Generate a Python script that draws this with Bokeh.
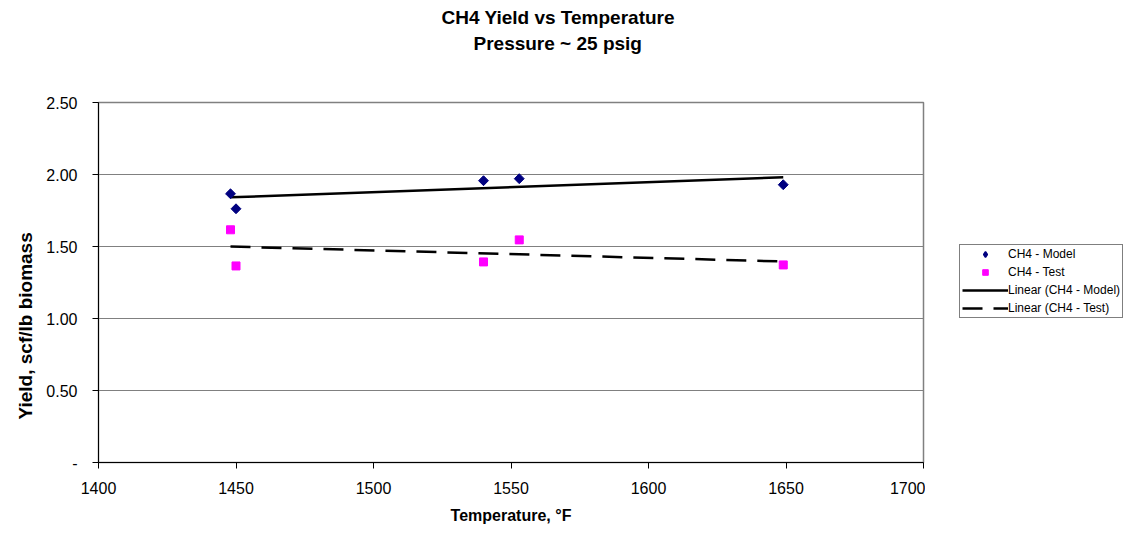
import numpy as np
from bokeh.plotting import figure
from bokeh.layouts import row
from bokeh.models import (ColumnDataSource, Legend, LegendItem, Title,
                          FixedTicker, Range1d)
from bokeh.embed import file_html
from bokeh.resources import INLINE

# Test temperatures (deg F) and CH4 yields (scf/lb biomass)
model_temp = [1448, 1450, 1540, 1553, 1649]
model_yield = [1.866, 1.762, 1.957, 1.971, 1.929]
test_temp = [1448, 1450, 1540, 1553, 1649]
test_yield = [1.616, 1.365, 1.393, 1.546, 1.372]

x_ticks = [1400, 1450, 1500, 1550, 1600, 1650, 1700]
y_ticks = [0.0, 0.5, 1.0, 1.5, 2.0, 2.5]
y_tick_labels = ["-", "0.50", "1.00", "1.50", "2.00", "2.50"]

title_lines = ["CH4 Yield vs Temperature", "Pressure ~ 25 psig"]
x_title = "Temperature, \u00b0F"
y_title = "Yield, scf/lb biomass"
legend_labels = ["CH4 - Model", "CH4 - Test",
                 "Linear (CH4 - Model)", "Linear (CH4 - Test)"]

FONT = "Liberation Sans"
H = 534
CHART_W = 925
LEGEND_W = 200

NAVY, MAGENTA = "#000080", "#FF00FF"
# a square turned 45 degrees gives an even diamond
MODEL_STYLE = dict(marker="square", size=7, angle=np.pi / 4,
                   fill_color=NAVY, line_color=NAVY)
# legend keys are drawn unrotated, so the key uses the diamond marker
MODEL_KEY_STYLE = dict(marker="diamond", size=10, line_width=1.5,
                       fill_color=NAVY, line_color=NAVY)
TEST_STYLE = dict(marker="square", size=8,
                  fill_color=MAGENTA, line_color=MAGENTA)
FIT_STYLE = dict(line_color="black", line_width=2.5)
DASH = "20 11"

# linear trendlines (least-squares fits over each series' range)
def trend(xs, ys):
    k, b = np.polyfit(xs, ys, 1)
    xe = np.array([min(xs), max(xs)], dtype=float)
    return dict(x=xe, y=k * xe + b)

model_src = ColumnDataSource(dict(x=model_temp, y=model_yield))
test_src = ColumnDataSource(dict(x=test_temp, y=test_yield))
mfit_src = ColumnDataSource(trend(model_temp, model_yield))
tfit_src = ColumnDataSource(trend(test_temp, test_yield))

p = figure(width=CHART_W, height=H, output_backend="svg",
           toolbar_location=None,
           x_range=Range1d(1400, 1700), y_range=Range1d(0, 2.5),
           min_border_left=98, min_border_right=2,
           min_border_top=102, min_border_bottom=72)
p.background_fill_color = "white"
p.border_fill_color = "white"
p.outline_line_color = "#808080"
p.outline_line_width = 1.5

# axes
for ax in (p.xaxis[0], p.yaxis[0]):
    ax.axis_line_color = "black"
    ax.axis_line_width = 1
    ax.major_tick_line_color = "black"
    ax.major_tick_out = 6
    ax.major_tick_in = 0
    ax.minor_tick_line_color = None
    ax.major_label_text_font = FONT
    ax.major_label_text_font_size = "16px"
    ax.major_label_text_color = "black"

p.xaxis.ticker = FixedTicker(ticks=x_ticks)
p.xaxis.major_label_standoff = 13
p.yaxis.ticker = FixedTicker(ticks=y_ticks)
p.yaxis.major_label_overrides = dict(zip(y_ticks, y_tick_labels))
p.yaxis.major_label_standoff = 15

p.xgrid.grid_line_color = None
p.ygrid.grid_line_color = "#808080"
p.ygrid.grid_line_width = 1
p.ygrid.ticker = FixedTicker(ticks=y_ticks)

p.line("x", "y", source=mfit_src, **FIT_STYLE)
p.line("x", "y", source=tfit_src, line_dash=DASH, **FIT_STYLE)
p.scatter("x", "y", source=model_src, **MODEL_STYLE)
p.scatter("x", "y", source=test_src, **TEST_STYLE)

# chart title (two lines) and axis titles
def title(text, size, **kw):
    return Title(text=text, text_font=FONT, text_font_style="bold",
                 text_font_size=size, text_color="black", **kw)

# blank spacer keeps the two title lines clear of the plot frame
p.add_layout(Title(text=" ", text_font_size="1px", standoff=44), "above")
p.add_layout(title(title_lines[1], "19px", align="left", offset=375,
                   standoff=4), "above")
p.add_layout(title(title_lines[0], "19px", align="left", offset=343,
                   standoff=2), "above")
p.add_layout(title(x_title, "16px", align="center", standoff=16), "below")
p.add_layout(title(y_title, "19px", align="left", offset=43,
                   standoff=16), "left")

# legend panel to the right of the chart, keyed by renderers that share
# the chart's data sources (they fall outside this panel's own ranges)
lg = figure(width=LEGEND_W, height=H, output_backend="svg",
            toolbar_location=None, x_range=Range1d(0, 1), y_range=Range1d(0, 1),
            min_border=0)
lg.axis.visible = False
lg.grid.visible = False
lg.outline_line_color = None
lg.border_fill_color = "white"

k_model = lg.scatter("x", "y", source=model_src, **MODEL_KEY_STYLE)
k_test = lg.scatter("x", "y", source=test_src, **TEST_STYLE)
k_mfit = lg.line("x", "y", source=mfit_src, **FIT_STYLE)
k_tfit = lg.line("x", "y", source=tfit_src, line_dash=DASH, **FIT_STYLE)

legend = Legend(items=[LegendItem(label=t, renderers=[r]) for t, r in
                       zip(legend_labels, [k_model, k_test, k_mfit, k_tfit])],
                location=(34, 144))
legend.label_text_font = FONT
legend.label_text_font_size = "12px"
legend.label_text_color = "black"
legend.label_standoff = 0
legend.glyph_width = 46
legend.glyph_height = 14
legend.label_height = 14
legend.spacing = 4
legend.padding = 2
legend.margin = 0
legend.border_line_color = "black"
legend.border_line_width = 1
legend.background_fill_alpha = 1
lg.add_layout(legend, "center")

layout = row(p, lg, spacing=0)
open("out.html", "w").write(file_html(layout, INLINE))
